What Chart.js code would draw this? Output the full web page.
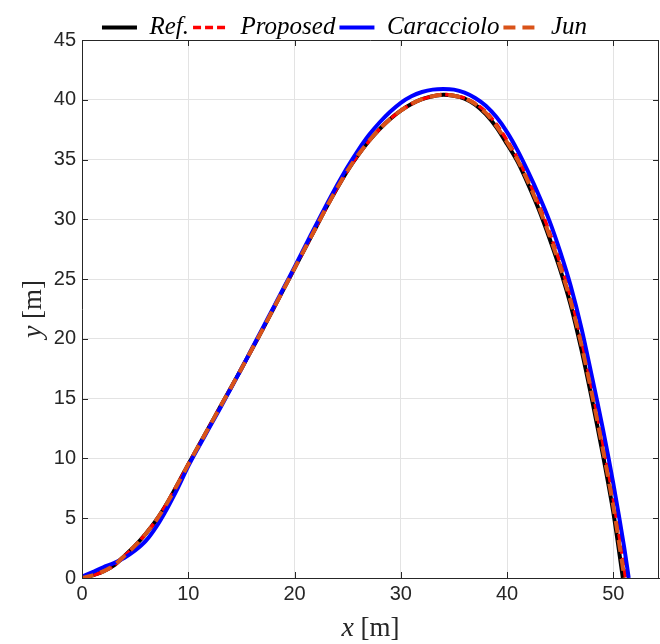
<!DOCTYPE html>
<html>
<head>
<meta charset="utf-8">
<script src="https://cdn.jsdelivr.net/npm/chart.js@4.4.1/dist/chart.umd.min.js"></script>
<style>
  body { margin: 0; background: #fff; }
  #wrap { width: 660px; height: 644px; }
</style>
</head>
<body>
<div id="wrap"><canvas id="myChart"></canvas></div>
<script>
// valores (x, y em metros)
const xRef = [0, 1, 2, 3, 4, 5, 6, 7, 8, 9, 10, 11, 12, 13, 14, 15, 16, 17, 18, 19, 20, 21, 22, 23, 24, 25, 26, 27, 28, 29, 30, 31, 32, 33, 34, 35, 36, 37, 38, 39, 40, 41, 42, 43, 44, 45, 46, 47, 48, 49, 50, 50.9];
const yRef = [0, 0.22, 0.55, 1.05, 1.85, 2.7, 3.7, 4.85, 6.25, 7.85, 9.5, 11.1, 12.7, 14.3, 15.9, 17.5, 19.15, 20.8, 22.5, 24.2, 25.9, 27.6, 29.3, 31.0, 32.6, 34.1, 35.4, 36.55, 37.55, 38.4, 39.1, 39.65, 40.05, 40.3, 40.43, 40.33, 40.1, 39.6, 38.8, 37.7, 36.3, 34.8, 32.9, 30.8, 28.4, 25.8, 22.8, 19.1, 14.9, 10.4, 5.5, 0];

const xProposed = [0, 1, 2, 3, 4, 5, 6, 7, 8, 9, 10, 11, 12, 13, 14, 15, 16, 17, 18, 19, 20, 21, 22, 23, 24, 25, 26, 27, 28, 29, 30, 31, 32, 33, 34, 35, 36, 37, 38, 39, 40, 41, 42, 43, 44, 45, 46, 47, 48, 49, 50, 51, 51.15];
const yProposed = [0, 0.22, 0.55, 1.05, 1.85, 2.7, 3.7, 4.85, 6.25, 7.85, 9.5, 11.1, 12.7, 14.3, 15.9, 17.5, 19.15, 20.8, 22.5, 24.2, 25.9, 27.6, 29.3, 31.0, 32.6, 34.1, 35.4, 36.55, 37.55, 38.4, 39.1, 39.65, 40.05, 40.3, 40.45, 40.35, 40.15, 39.7, 39.0, 37.95, 36.6, 35.1, 33.3, 31.25, 28.9, 26.35, 23.45, 19.9, 15.8, 11.35, 6.6, 1.0, 0];

const xCaracciolo = [0, 1, 2, 3, 4, 5, 6, 7, 8, 9, 10, 11, 12, 13, 14, 15, 16, 17, 18, 19, 20, 21, 22, 23, 24, 25, 26, 27, 28, 29, 30, 31, 32, 33, 34, 35, 36, 37, 38, 39, 40, 41, 42, 43, 44, 45, 46, 47, 48, 49, 50, 51, 51.45];
const yCaracciolo = [0.1, 0.5, 0.9, 1.25, 1.7, 2.3, 3.1, 4.3, 5.8, 7.5, 9.35, 11.0, 12.6, 14.2, 15.85, 17.5, 19.2, 20.9, 22.6, 24.3, 26.0, 27.75, 29.5, 31.2, 32.85, 34.4, 35.8, 37.05, 38.1, 39.0, 39.75, 40.3, 40.65, 40.85, 40.9, 40.85, 40.6, 40.15, 39.5, 38.55, 37.3, 35.75, 33.95, 32.0, 29.85, 27.3, 24.4, 20.9, 16.8, 12.55, 7.9, 2.7, 0];

const xJun = [0, 1, 2, 3, 4, 5, 6, 7, 8, 9, 10, 11, 12, 13, 14, 15, 16, 17, 18, 19, 20, 21, 22, 23, 24, 25, 26, 27, 28, 29, 30, 31, 32, 33, 34, 35, 36, 37, 38, 39, 40, 41, 42, 43, 44, 45, 46, 47, 48, 49, 50, 51, 51.05];
const yJun = [0, 0.22, 0.55, 1.05, 1.85, 2.7, 3.7, 4.85, 6.25, 7.85, 9.5, 11.1, 12.7, 14.3, 15.9, 17.5, 19.15, 20.8, 22.5, 24.2, 25.9, 27.6, 29.3, 31.0, 32.6, 34.1, 35.4, 36.55, 37.55, 38.4, 39.1, 39.65, 40.05, 40.3, 40.43, 40.33, 40.12, 39.65, 38.9, 37.8, 36.45, 34.95, 33.1, 31.0, 28.65, 26.05, 23.1, 19.5, 15.35, 10.85, 6.0, 0.3, 0];

const xLimits = [0, 54.3];
const yLimits = [0, 45];
const xStep = 10;
const yStep = 5;

function pares(xs, ys) {
    return xs.map((x, i) => ({ x: x, y: ys[i] }));
}

const corEixo = "#262626";

// moldura, ticks internos e titulos dos eixos (estilo matlab)
const moldura = {
    id: "moldura",
    afterDraw(chart) {
        const ctx = chart.ctx;
        const a = chart.chartArea;
        const sx = chart.scales.x;
        const sy = chart.scales.y;
        ctx.save();
        ctx.strokeStyle = corEixo;
        ctx.lineWidth = 1;
        ctx.beginPath();
        ctx.moveTo(a.left, a.top + 0.5);
        ctx.lineTo(a.right, a.top + 0.5);
        ctx.moveTo(a.right - 0.5, a.top);
        ctx.lineTo(a.right - 0.5, a.bottom);
        sx.ticks.forEach((t) => {
            const px = Math.round(sx.getPixelForValue(t.value)) + 0.5;
            ctx.moveTo(px, a.bottom);
            ctx.lineTo(px, a.bottom - 6);
            ctx.moveTo(px, a.top);
            ctx.lineTo(px, a.top + 6);
        });
        sy.ticks.forEach((t) => {
            const py = Math.round(sy.getPixelForValue(t.value)) + 0.5;
            ctx.moveTo(a.left, py);
            ctx.lineTo(a.left + 6, py);
            ctx.moveTo(a.right, py);
            ctx.lineTo(a.right - 6, py);
        });
        ctx.stroke();

        function titulo(letra, cx, cy, rot) {
            ctx.save();
            ctx.translate(cx, cy);
            ctx.rotate(rot);
            ctx.fillStyle = corEixo;
            ctx.textBaseline = "middle";
            const fItal = 'italic 28px "Liberation Serif"';
            const fNorm = '27px "Liberation Serif"';
            ctx.font = fItal;
            const w1 = ctx.measureText(letra).width;
            ctx.font = fNorm;
            const resto = " [m]";
            const w2 = ctx.measureText(resto).width;
            const x0 = -(w1 + w2) / 2;
            ctx.font = fItal;
            ctx.textAlign = "left";
            ctx.fillText(letra, x0, 0);
            ctx.font = fNorm;
            ctx.fillText(resto, x0 + w1, 0);
            ctx.restore();
        }
        titulo("x", (a.left + a.right) / 2, 629, 0);
        titulo("y", 34, (a.top + a.bottom) / 2, -Math.PI / 2);
        ctx.restore();
    },
};

let ctx = document.getElementById("myChart").getContext("2d");

let myChart = new Chart(ctx, {
    type: "scatter",
    data: {
        datasets: [
            {
                label: "Ref.",
                data: pares(xRef, yRef),
                borderColor: "#000000",
                backgroundColor: "#000000",
                borderWidth: 4,
                order: 4,
            },
            {
                label: "Proposed",
                data: pares(xProposed, yProposed),
                borderColor: "#ff0000",
                backgroundColor: "#ff0000",
                borderWidth: 3.5,
                borderDash: [8, 4],
                order: 3,
            },
            {
                label: "Caracciolo",
                data: pares(xCaracciolo, yCaracciolo),
                borderColor: "#0000ff",
                backgroundColor: "#0000ff",
                borderWidth: 4,
                order: 2,
            },
            {
                label: "Jun",
                data: pares(xJun, yJun),
                borderColor: "#d95319",
                backgroundColor: "#d95319",
                borderWidth: 4,
                borderDash: [12, 7],
                order: 1,
            },
        ],
    },
    options: {
        responsive: true,
        maintainAspectRatio: false,
        animation: false,
        showLine: true,
        elements: {
            point: { radius: 0, hoverRadius: 0 },
            line: { tension: 0.3, fill: false },
        },
        layout: {
            padding: { left: 30, right: 1, top: 11, bottom: 0 },
        },
        scales: {
            x: {
                type: "linear",
                min: xLimits[0],
                max: xLimits[1],
                afterFit: (scale) => {
                    scale.height = 66;
                },
                ticks: {
                    stepSize: xStep,
                    includeBounds: false,
                    color: corEixo,
                    font: { family: '"Liberation Sans"', size: 20 },
                    padding: 4,
                    maxRotation: 0,
                },
                grid: {
                    color: "#e3e3e3",
                    drawTicks: false,
                },
                border: { color: corEixo },
            },
            y: {
                type: "linear",
                min: yLimits[0],
                max: yLimits[1],
                afterFit: (scale) => {
                    scale.width = 52;
                },
                ticks: {
                    stepSize: yStep,
                    color: corEixo,
                    font: { family: '"Liberation Sans"', size: 20 },
                    padding: 6,
                },
                grid: {
                    color: "#e3e3e3",
                    drawTicks: false,
                },
                border: { color: corEixo },
            },
        },
        plugins: {
            legend: {
                position: "top",
                reverse: true,
                maxHeight: 29,
                labels: {
                    usePointStyle: true,
                    pointStyle: "line",
                    pointStyleWidth: 35,
                    padding: 4,
                    color: "#000000",
                    font: { family: '"Liberation Serif"', style: "italic", size: 25 },
                    generateLabels: (chart) => {
                        let itens = Chart.defaults.plugins.legend.labels.generateLabels(chart);
                        itens.forEach((it) => {
                            it.lineDash = chart.data.datasets[it.datasetIndex].borderDash || [];
                        });
                        return itens;
                    },
                },
            },
            tooltip: { enabled: false },
        },
    },
    plugins: [moldura],
});
</script>
</body>
</html>
